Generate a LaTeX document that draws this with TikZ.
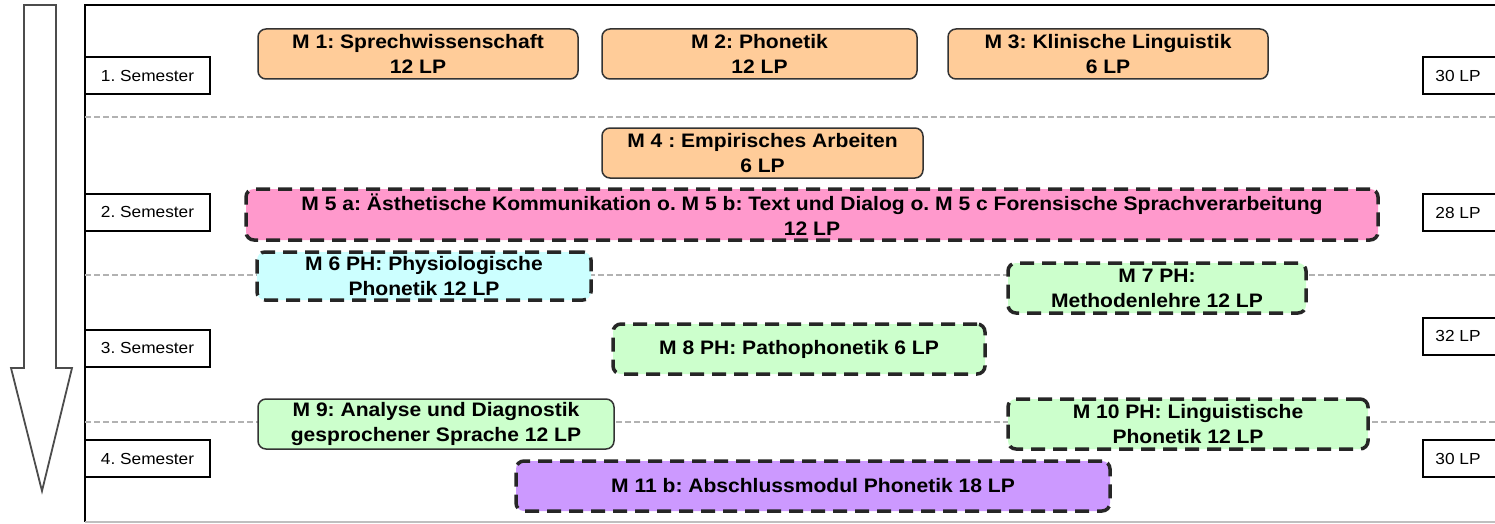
\documentclass[tikz,border=0pt]{standalone}
\usepackage{fontspec}
\setmainfont{Liberation Sans}
\newfontfamily\modfont{Liberation Sans}[FakeStretch=1.08]
\usepackage{tikz}
\definecolor{modorange}{HTML}{FFCC99}
\definecolor{modpink}{HTML}{FF99CC}
\definecolor{modcyan}{HTML}{CCFFFF}
\definecolor{modgreen}{HTML}{CCFFCC}
\definecolor{modpurple}{HTML}{CC99FF}
\frenchspacing

\begin{document}
\begin{tikzpicture}[x=1pt,y=-1pt,
   module/.style={rectangle,rounded corners=8pt,align=center,inner sep=0pt,
      font=\modfont\fontsize{19.5}{25}\selectfont\bfseries},
   fixed/.style={module,draw=black!80,line width=1.5pt},
   optional/.style={module,draw=black!85,line width=3.5pt,dash pattern=on 14pt off 8pt},
   semester/.style={rectangle,draw,line width=2pt,inner sep=0pt,
      minimum width=125pt,minimum height=37pt,font=\modfont\fontsize{16}{18}\selectfont},
   points/.style={semester,minimum width=77pt},
   sep/.style={gray!60,line width=1.2pt,dash pattern=on 6pt off 3pt}]
   \useasboundingbox (0,0) rectangle (1495,524);
   \clip (0,0) rectangle (1495,524);

   \draw[black!70,line width=1.8pt] (24,5) -- (56,5) -- (56,368) -- (72,368)
      -- (42,491) -- (11,368) -- (24,368) -- cycle;
   \draw[line width=2pt] (1510,5) -- (85,5) -- (85,522);
   \draw[gray!50,line width=1.5pt] (85,522) -- (1510,522);
   \foreach \y in {117,275,422}
      \draw[sep] (85,\y) -- (1510,\y);

   \node[semester] (s_1) at (147.5,75.5) {1. Semester};
   \node[semester] (s_2) at (147.5,212) {2. Semester};
   \node[semester] (s_3) at (147.5,348) {3. Semester};
   \node[semester] (s_4) at (147.5,458.5) {4. Semester};

   \node[points] (lp_1) at (1461.5,76) {\hspace*{-7pt}30 LP};
   \node[points] (lp_2) at (1461.5,212.5) {\hspace*{-7pt}28 LP};
   \node[points] (lp_3) at (1461.5,336) {\hspace*{-7pt}32 LP};
   \node[points] (lp_4) at (1461.5,458.5) {\hspace*{-7pt}30 LP};

   \node[fixed,fill=modorange,minimum width=320pt,minimum height=50pt] (m_1)
      at (418,54) {M 1: Sprechwissenschaft\\12 LP};
   \node[fixed,fill=modorange,minimum width=315pt,minimum height=50pt] (m_2)
      at (759.5,54) {M 2: Phonetik\\12 LP};
   \node[fixed,fill=modorange,minimum width=320pt,minimum height=50pt] (m_3)
      at (1108,54) {M 3: Klinische Linguistik\\6 LP};
   \node[fixed,fill=modorange,minimum width=321pt,minimum height=50pt] (m_4)
      at (762.5,153) {M 4 : Empirisches Arbeiten\\6 LP};
   \node[optional,fill=modpink,minimum width=1132pt,minimum height=51pt] (m_5)
      at (812,214.5) {M 5 a: Ästhetische Kommunikation o. M 5 b: Text und Dialog o. M 5 c Forensische Sprachverarbeitung\\12 LP};
   \node[optional,fill=modcyan,minimum width=334pt,minimum height=48pt] (m_6)
      at (424,276) {M 6 PH: Physiologische\\Phonetik 12 LP};
   \node[optional,fill=modgreen,minimum width=298pt,minimum height=50pt] (m_7)
      at (1157,288) {M 7 PH:\\Methodenlehre 12 LP};
   \node[optional,fill=modgreen,minimum width=372pt,minimum height=50pt] (m_8)
      at (799,349) {M 8 PH: Pathophonetik 6 LP};
   \node[fixed,fill=modgreen,minimum width=356pt,minimum height=50pt] (m_9)
      at (436,424) {M 9: Analyse und Diagnostik\\gesprochener Sprache 12 LP};
   \node[optional,fill=modgreen,minimum width=360pt,minimum height=50pt] (m_10)
      at (1188,424) {M 10 PH: Linguistische\\Phonetik 12 LP};
   \node[optional,fill=modpurple,minimum width=594pt,minimum height=50pt] (m_11)
      at (813,486) {M 11 b: Abschlussmodul Phonetik 18 LP};
\end{tikzpicture}
\end{document}
